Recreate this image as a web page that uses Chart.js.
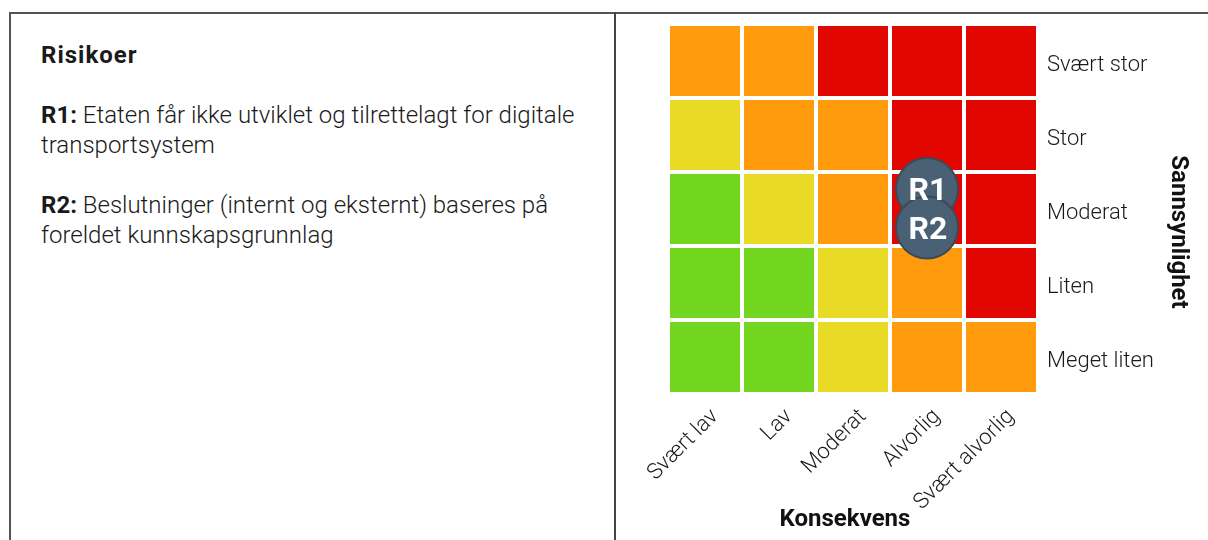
<!DOCTYPE html>
<html lang="no">
<head>
<meta charset="utf-8">
<title>Risikomatrise</title>
<script src="https://cdn.jsdelivr.net/npm/chart.js@4/dist/chart.umd.min.js"></script>
<style>
  html, body { margin: 0; padding: 0; background: #fff; }
  body { width: 1208px; height: 540px; position: relative; overflow: hidden; font-family: Roboto, sans-serif; font-weight: 300; color: #1a1a1a; }
  .ramme { position: absolute; left: 9px; top: 12px; right: 0; bottom: 0; border-top: 2px solid #555; border-left: 2px solid #555; }
  .skille { position: absolute; left: 614px; top: 12px; bottom: 0; border-left: 2px solid #444; }
  .tekst { position: absolute; left: 41px; top: 40px; width: 560px; font-size: 24px; line-height: 30px; }
  .tekst p { margin: 0 0 30px 0; }
  .tekst b { font-weight: 700; }
  .tekst .overskrift { letter-spacing: 1px; }
  #boks { position: absolute; left: 616px; top: 14px; width: 592px; height: 526px; }
</style>
</head>
<body>
<div class="ramme"></div>
<div class="skille"></div>
<div class="tekst">
  <p><b class="overskrift">Risikoer</b></p>
  <p><b>R1:</b> Etaten får ikke utviklet og tilrettelagt for digitale transportsystem</p>
  <p><b>R2:</b> Beslutninger (internt og eksternt) baseres på foreldet kunnskapsgrunnlag</p>
</div>
<div id="boks"><canvas id="matrise"></canvas></div>

<script>
// Akser: konsekvens (x) og sannsynlighet (y, nederst til øverst)
const konsekvens = ['Svært lav', 'Lav', 'Moderat', 'Alvorlig', 'Svært alvorlig'];
const sannsynlighet = ['Meget liten', 'Liten', 'Moderat', 'Stor', 'Svært stor'];

// Risikonivå per celle (1 = lav/grønn ... 4 = høy/rød), en rad per sannsynlighet
const nivaMegetLiten = [1, 1, 2, 3, 3];
const nivaLiten      = [1, 1, 2, 3, 4];
const nivaModerat    = [1, 2, 3, 4, 4];
const nivaStor       = [2, 3, 3, 4, 4];
const nivaSvaertStor = [3, 3, 4, 4, 4];

// Risikoene som plasseres i matrisen
const risikoNavn = ['R1', 'R2'];
const risikoKonsekvens = ['Alvorlig', 'Alvorlig'];
const risikoSannsynlighet = ['Moderat', 'Moderat'];

const nivaFarger = { 1: '#73d61e', 2: '#e9db25', 3: '#ff9b0d', 4: '#e10600' };
const rader = [nivaMegetLiten, nivaLiten, nivaModerat, nivaStor, nivaSvaertStor];

// En flytende stolpe per celle: rad i går fra i til i+1 på y-aksen
const celleData = rader.map(function(rad, i) {
    return {
        data: rad.map(function() { return [i, i + 1]; }),
        backgroundColor: rad.map(function(n) { return nivaFarger[n]; }),
        borderColor: '#ffffff',
        borderWidth: 2,
        borderSkipped: false,
        inflateAmount: 0,
        grouped: false,
        barPercentage: 1,
        categoryPercentage: 1,
        order: 1
    };
});

// Risikoer i samme celle spres litt opp/ned så begge synes
const spredning = [0.27, -0.25];
const risikoPunkter = risikoNavn.map(function(navn, i) {
    return {
        x: risikoKonsekvens[i],
        y: sannsynlighet.indexOf(risikoSannsynlighet[i]) + 0.5 + spredning[i],
        r: 31,
        navn: navn
    };
});

// Skriver R1/R2 midt i boblene
const bobleTekst = {
    id: 'bobleTekst',
    afterDatasetsDraw(chart) {
        const meta = chart.getDatasetMeta(chart.data.datasets.length - 1);
        const ctx = chart.ctx;
        ctx.save();
        ctx.fillStyle = '#ffffff';
        ctx.font = 'bold 32px Roboto, sans-serif';
        ctx.textAlign = 'center';
        ctx.textBaseline = 'middle';
        meta.data.forEach(function(el, i) {
            ctx.fillText(risikoPunkter[i].navn, el.x + 1, el.y + 3);
        });
        ctx.restore();
    }
};

// Aksetitlene tegnes selv, plassert litt utenfor midten som i originalen
const aksetitler = {
    id: 'aksetitler',
    afterDraw(chart) {
        const area = chart.chartArea;
        const ctx = chart.ctx;
        ctx.save();
        ctx.fillStyle = '#111';
        ctx.font = 'bold 24px Roboto, sans-serif';
        ctx.textAlign = 'center';
        ctx.textBaseline = 'middle';
        ctx.fillText('Konsekvens', (area.left + area.right) / 2 - 8, chart.scales.x.bottom - 20);
        ctx.translate(chart.scales.y2.right - 30, (area.top + area.bottom) / 2 + 23);
        ctx.rotate(Math.PI / 2);
        ctx.fillText('Sannsynlighet', 0, 0);
        ctx.restore();
    }
};

const tekstFarge = '#1a1a1a';

new Chart(document.getElementById('matrise'), {
    type: 'bar',
    data: {
        labels: konsekvens,
        datasets: celleData.concat([{
            type: 'bubble',
            data: risikoPunkter,
            backgroundColor: '#4a6074',
            borderColor: '#3b4a58',
            borderWidth: 2,
            order: 0
        }])
    },
    options: {
        responsive: true,
        maintainAspectRatio: false,
        animation: false,
        events: [],
        layout: { autoPadding: false, padding: { top: 10, left: 52, right: 0, bottom: 0 } },
        plugins: {
            legend: { display: false },
            tooltip: { enabled: false }
        },
        scales: {
            x: {
                type: 'category',
                offset: true,
                grid: { display: false, drawTicks: false },
                border: { display: false },
                ticks: {
                    color: tekstFarge,
                    font: { family: 'Roboto', size: 22, weight: 300 },
                    minRotation: 45,
                    maxRotation: 45,
                    labelOffset: 10,
                    padding: 10
                },
                afterFit: function(scale) { scale.height = 146; }
            },
            y: {
                type: 'linear',
                min: 0,
                max: sannsynlighet.length,
                display: false
            },
            y2: {
                type: 'category',
                position: 'right',
                labels: sannsynlighet.slice().reverse(),
                offset: true,
                grid: { display: false, drawTicks: false },
                border: { display: false },
                ticks: {
                    color: tekstFarge,
                    font: { family: 'Roboto', size: 22, weight: 300 },
                    labelOffset: 4,
                    padding: 9
                },
                afterFit: function(scale) { scale.width = 170; scale.paddingTop = 0; scale.paddingBottom = 0; }
            }
        }
    },
    plugins: [bobleTekst, aksetitler]
});
</script>
</body>
</html>
